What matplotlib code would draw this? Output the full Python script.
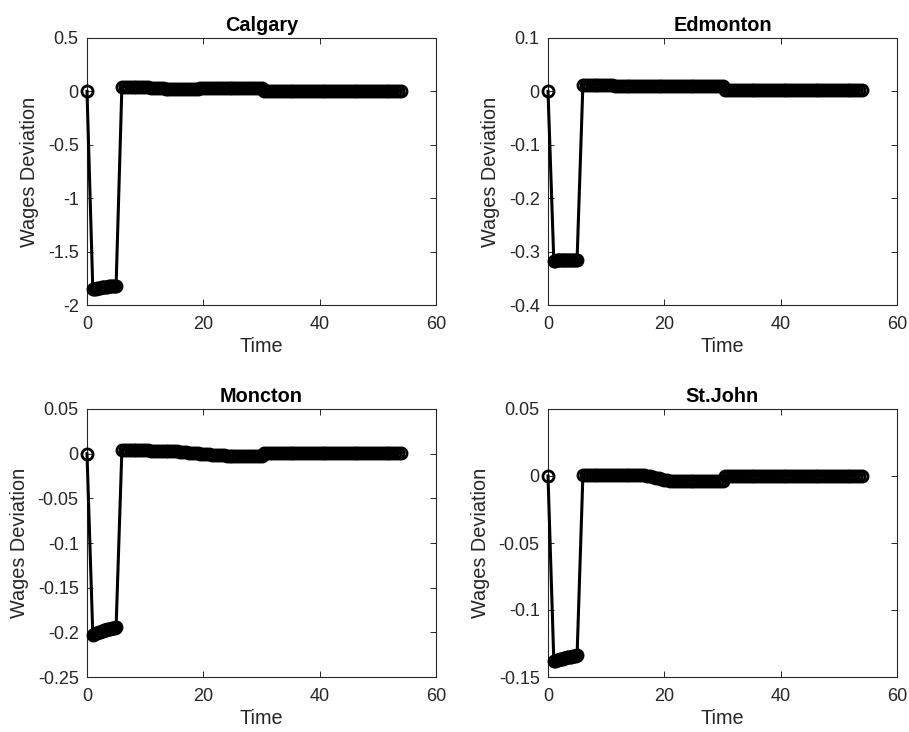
import numpy as np
import matplotlib
matplotlib.use("Agg")
import matplotlib.pyplot as plt

plt.rcParams['font.family'] = ['Liberation Sans', 'DejaVu Sans']
plt.rcParams['axes.unicode_minus'] = False

# time grid: start, shock years (quarterly), then half-year steps
time = [0.0] + list(np.arange(1.0, 5.01, 0.25)) + list(np.arange(6.0, 54.01, 0.5))

calgary = ([0.0]
           + [-1.853, -1.850, -1.847, -1.844, -1.840, -1.837, -1.834, -1.832, -1.830,
              -1.828, -1.827, -1.826, -1.825, -1.824, -1.823, -1.822, -1.822]
           + [0.044, 0.044, 0.043, 0.043, 0.042, 0.042, 0.041, 0.040, 0.039]
           + [0.038, 0.036, 0.035, 0.033, 0.031, 0.029, 0.027, 0.025, 0.024, 0.023]
           + [0.022, 0.022, 0.022, 0.023, 0.024, 0.025]
           + [0.026, 0.027, 0.028, 0.029, 0.029] + [0.030] * 19
           + [0.002] * 48)

edmonton = ([0.0]
            + [-0.3170, -0.3168, -0.3166, -0.3164, -0.3162, -0.3160, -0.3158, -0.3157, -0.3156,
               -0.3155, -0.3154, -0.3153, -0.3152, -0.3151, -0.3150, -0.3149, -0.3148]
            + [0.0126, 0.0126, 0.0125, 0.0124, 0.0123, 0.0122, 0.0120, 0.0118, 0.0116, 0.0114]
            + [0.0112, 0.0110, 0.0108, 0.0106] + [0.0104] * 10 + [0.0102] * 10 + [0.0100] * 15
            + [0.0025] * 48)

moncton = ([0.0]
           + [-0.2030, -0.2022, -0.2013, -0.2005, -0.1998, -0.1992, -0.1987, -0.1982, -0.1977,
              -0.1972, -0.1967, -0.1962, -0.1958, -0.1954, -0.1950, -0.1947, -0.1944]
           + [0.0045, 0.0044, 0.0043, 0.0042, 0.0041, 0.0040, 0.0039, 0.0038, 0.0037, 0.0036,
              0.0035, 0.0034, 0.0033, 0.0032, 0.0031, 0.0030, 0.0029, 0.0028, 0.0028]
           + [0.0025, 0.0022, 0.0019, 0.0016, 0.0013, 0.0010, 0.0007, 0.0004, 0.0001,
              -0.0002, -0.0005, -0.0008, -0.0011, -0.0013, -0.0015, -0.0017, -0.0020, -0.0022]
           + [-0.0023, -0.0024, -0.0025, -0.0026, -0.0027, -0.0028, -0.0028, -0.0029,
              -0.0029, -0.0030, -0.0030, -0.0030]
           + [0.0006] * 48)

stjohn = ([0.0]
          + [-0.1380, -0.1377, -0.1374, -0.1371, -0.1368, -0.1365, -0.1362, -0.1359, -0.1356,
             -0.1354, -0.1352, -0.1350, -0.1348, -0.1346, -0.1344, -0.1341, -0.1336]
          + [0.0006] * 22
          + [0.0002, -0.0003, -0.0008, -0.0013, -0.0018, -0.0023, -0.0028, -0.0032, -0.0035]
          + [-0.0036] * 9 + [-0.0037] * 9
          + [0.0003] * 48)

titles = ["Calgary", "Edmonton", "Moncton", "St.John"]
series = [calgary, edmonton, moncton, stjohn]
ylims = [(-2, 0.5), (-0.4, 0.1), (-0.25, 0.05), (-0.15, 0.05)]
yticks = [[-2, -1.5, -1, -0.5, 0, 0.5],
          [-0.4, -0.3, -0.2, -0.1, 0, 0.1],
          [-0.25, -0.2, -0.15, -0.1, -0.05, 0, 0.05],
          [-0.15, -0.1, -0.05, 0, 0.05]]
xticks = [0, 20, 40, 60]

W, H = 909, 732
fig = plt.figure(figsize=(W / 100, H / 100), dpi=100)

# axes boxes in pixels: left, top, right, bottom
boxes = [(87, 38, 436, 305), (548, 38, 897, 305),
         (87, 409, 436, 677), (548, 409, 897, 677)]

axcol = (0.15, 0.15, 0.15)


def fmt(v):
    return "%g" % v


for i in range(4):
    l, t, r, b = boxes[i]
    ax = fig.add_axes([l / W, 1 - b / H, (r - l) / W, (b - t) / H])
    ax.plot(time, series[i], "k-", lw=2.2, marker="o", ms=8, mfc="none",
            mec="k", mew=2.0, clip_on=False, zorder=3)
    ax.set_xlim(0, 60)
    ax.set_ylim(*ylims[i])
    ax.set_xticks(xticks)
    ax.set_xticklabels([fmt(v) for v in xticks])
    ax.set_yticks(yticks[i])
    ax.set_yticklabels([fmt(v) for v in yticks[i]])
    ax.tick_params(direction="in", length=4, width=0.7, top=True, right=True,
                   labelsize=13, colors=axcol, pad=6)
    ax.tick_params(axis="x", pad=8)
    for sp in ax.spines.values():
        sp.set_color(axcol)
        sp.set_linewidth(0.8)
    ax.set_title(titles[i], fontsize=14.3, fontweight="bold", color="k", pad=5)
    ax.set_xlabel("Time", fontsize=14.3, color=axcol, labelpad=3)
    ax.set_ylabel("Wages Deviation", fontsize=14.3, color=axcol, labelpad=6.5)

fig.savefig("out.png", dpi=100)
